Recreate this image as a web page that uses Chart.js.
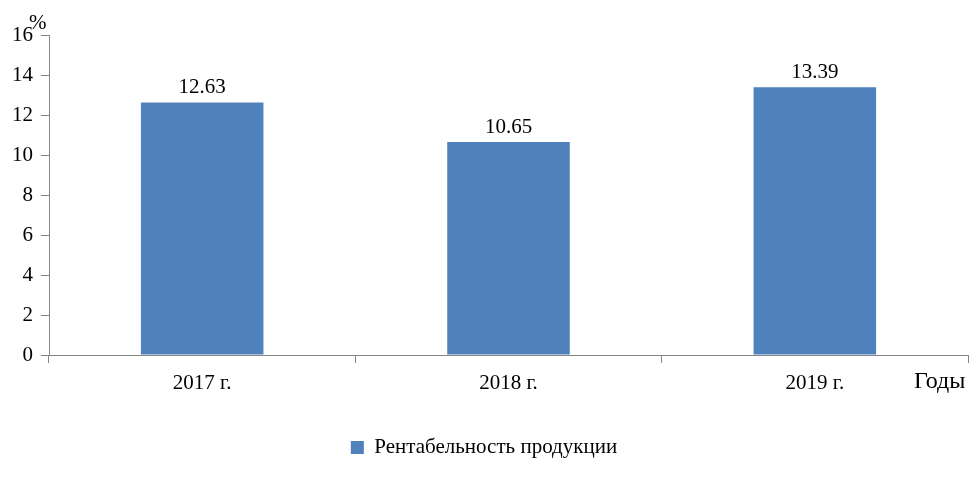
<!DOCTYPE html>
<html>
<head>
<meta charset="utf-8">
<script src="https://cdn.jsdelivr.net/npm/chart.js@4/dist/chart.umd.min.js"></script>
<style>
  html, body { margin: 0; padding: 0; background: #fff; }
  #wrap { width: 977px; height: 479px; }
</style>
</head>
<body>
<div id="wrap"><canvas id="c" width="977" height="479"></canvas></div>
<script>
// данные
const annees = ["2017 г.", "2018 г.", "2019 г."];
const rentabilite = [12.63, 10.65, 13.39];
const nomSerie = "Рентабельность продукции";
const yMin = 0, yMax = 16, yPas = 2;

const police = "'Liberation Serif', 'Times New Roman', serif";
const grisAxe = "#868686";

// étiquettes des valeurs, "%" et "Годы"
const textesPlugin = {
  id: "textes",
  afterDatasetsDraw(chart) {
    const ctx = chart.ctx;
    const a = chart.chartArea;
    ctx.save();
    ctx.fillStyle = "#000";
    ctx.font = "21px " + police;
    ctx.textAlign = "center";
    ctx.textBaseline = "alphabetic";
    const meta = chart.getDatasetMeta(0);
    meta.data.forEach((barre, i) => {
      ctx.fillText(rentabilite[i].toFixed(2), barre.x, barre.y - 9);
    });
    ctx.textAlign = "left";
    ctx.textBaseline = "middle";
    ctx.fillText("%", a.left - 20, a.top - 12);
    ctx.font = "24px " + police;
    ctx.fillText("Годы", a.right - 54, a.bottom + 27);
    ctx.restore();
  }
};

new Chart(document.getElementById("c"), {
  type: "bar",
  data: {
    labels: annees,
    datasets: [{
      label: nomSerie,
      data: rentabilite,
      backgroundColor: "#4F81BD",
      borderWidth: 0,
      categoryPercentage: 0.8,
      barPercentage: 0.5
    }]
  },
  options: {
    responsive: false,
    animation: false,
    layout: { padding: { left: 0, right: 9, top: 35, bottom: 11 } },
    plugins: {
      legend: {
        position: "bottom",
        labels: {
          color: "#000",
          font: { family: police, size: 21 },
          boxWidth: 13,
          boxHeight: 13,
          padding: 6
        }
      },
      tooltip: { enabled: false }
    },
    scales: {
      x: {
        afterFit(s) { s.height = 76; },
        grid: {
          offset: true,
          drawOnChartArea: false,
          color: grisAxe,
          tickLength: 8
        },
        border: { color: grisAxe, width: 1 },
        ticks: {
          color: "#000",
          font: { family: police, size: 21 },
          padding: 8
        }
      },
      y: {
        min: yMin,
        max: yMax,
        afterFit(s) { s.width = 49; },
        grid: {
          drawOnChartArea: false,
          color: grisAxe,
          tickLength: 8
        },
        border: { color: grisAxe, width: 1 },
        ticks: {
          stepSize: yPas,
          color: "#000",
          font: { family: police, size: 21 },
          padding: 8
        }
      }
    }
  },
  plugins: [textesPlugin]
});
</script>
</body>
</html>
